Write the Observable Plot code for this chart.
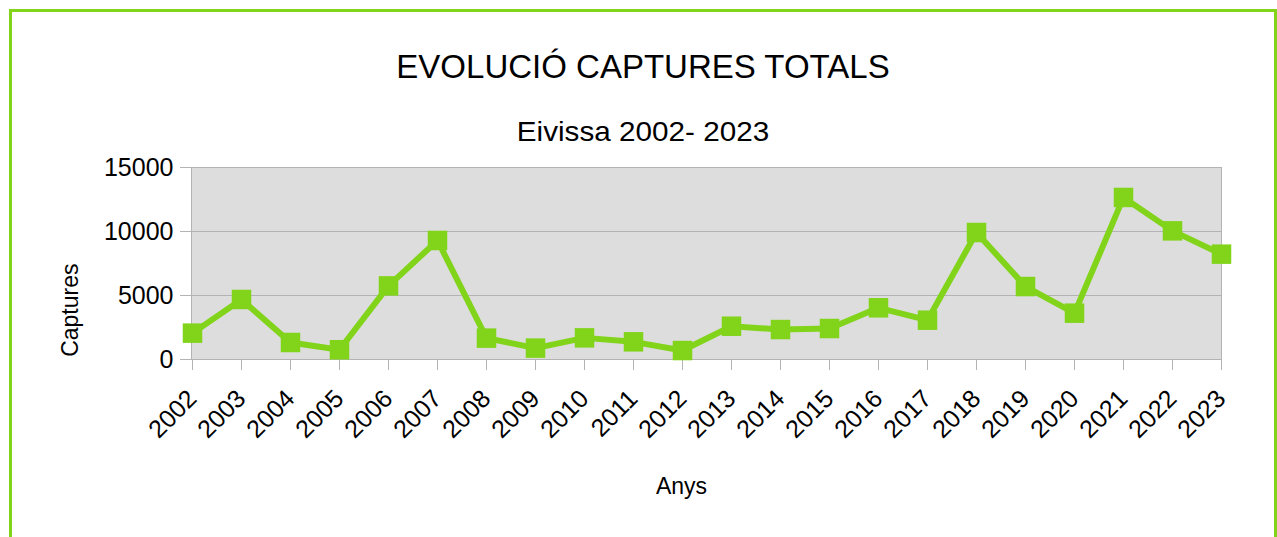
<!DOCTYPE html>
<html>
<head>
<meta charset="utf-8">
<script src="https://cdn.jsdelivr.net/npm/d3@7"></script>
<script src="https://cdn.jsdelivr.net/npm/@observablehq/plot@0.6"></script>
<style>
  html, body { margin: 0; padding: 0; background: #ffffff; width: 1277px; height: 537px; overflow: hidden; }
  body { position: relative; font-family: "Liberation Sans", Arial, sans-serif; color: #000; }
  .frame { position: absolute; left: 9px; top: 9px; width: 1262px; height: 600px; border: 3px solid #81d41a; pointer-events: none; }
  .title { position: absolute; left: 9px; width: 1268px; text-align: center; white-space: nowrap; line-height: 1; }
  #t1 { top: 50px; font-size: 33px; }
  #t2 { top: 118px; font-size: 28px; transform: scaleX(1.06); }
  #chart { position: absolute; left: 0; top: 150px; }
</style>
</head>
<body>
<div class="title" id="t1">EVOLUCIÓ CAPTURES TOTALS</div>
<div class="title" id="t2">Eivissa 2002- 2023</div>
<div id="chart"></div>
<div class="frame"></div>
<script>
const years = ["2002","2003","2004","2005","2006","2007","2008","2009","2010","2011","2012","2013","2014","2015","2016","2017","2018","2019","2020","2021","2022","2023"];
const captures = [2060, 4690, 1330, 760, 5750, 9300, 1670, 890, 1690, 1380, 700, 2600, 2340, 2420, 4040, 3070, 9920, 5700, 3620, 12660, 10050, 8230];
const yTicks = [0, 5000, 10000, 15000];
const yLabel = "Captures";
const xLabel = "Anys";

const data = years.map((y, i) => ({year: y, value: captures[i]}));
const green = "#81d41a";
const grey = "#b3b3b3";

const chart = Plot.plot({
  width: 1277,
  height: 387,
  marginLeft: 191,
  marginRight: 56,
  marginTop: 17,
  marginBottom: 178,
  style: {fontFamily: "'Liberation Sans', Arial, sans-serif", fontSize: "24px", color: "#000", background: "transparent", overflow: "visible"},
  x: {type: "point", domain: years, padding: 0, label: null},
  y: {domain: [0, 15000], label: null},
  marks: [
    Plot.frame({fill: "#dddddd", stroke: grey}),
    Plot.gridY(yTicks, {stroke: grey, strokeOpacity: 1}),
    Plot.axisY(yTicks, {tickSize: 11, tickPadding: 7, stroke: grey, label: null, tickFormat: d => String(d), fontSize: 25}),
    Plot.axisX({tickSize: 11, tickPadding: 24, tickRotate: -45, stroke: grey, label: null, fontSize: 25}),
    Plot.line(data, {x: "year", y: "value", stroke: green, strokeWidth: 6}),
    Plot.dot(data, {x: "year", y: "value", symbol: "square", r: 11, fill: green, stroke: null}),
    Plot.text([yLabel], {text: d => d, frameAnchor: "left", rotate: -90, textAnchor: "end", dx: -121, fontSize: 23}),
    Plot.text([xLabel], {text: d => d, frameAnchor: "bottom", dx: -25, dy: 134, fontSize: 23})
  ]
});
document.getElementById("chart").appendChild(chart);
</script>
</body>
</html>
